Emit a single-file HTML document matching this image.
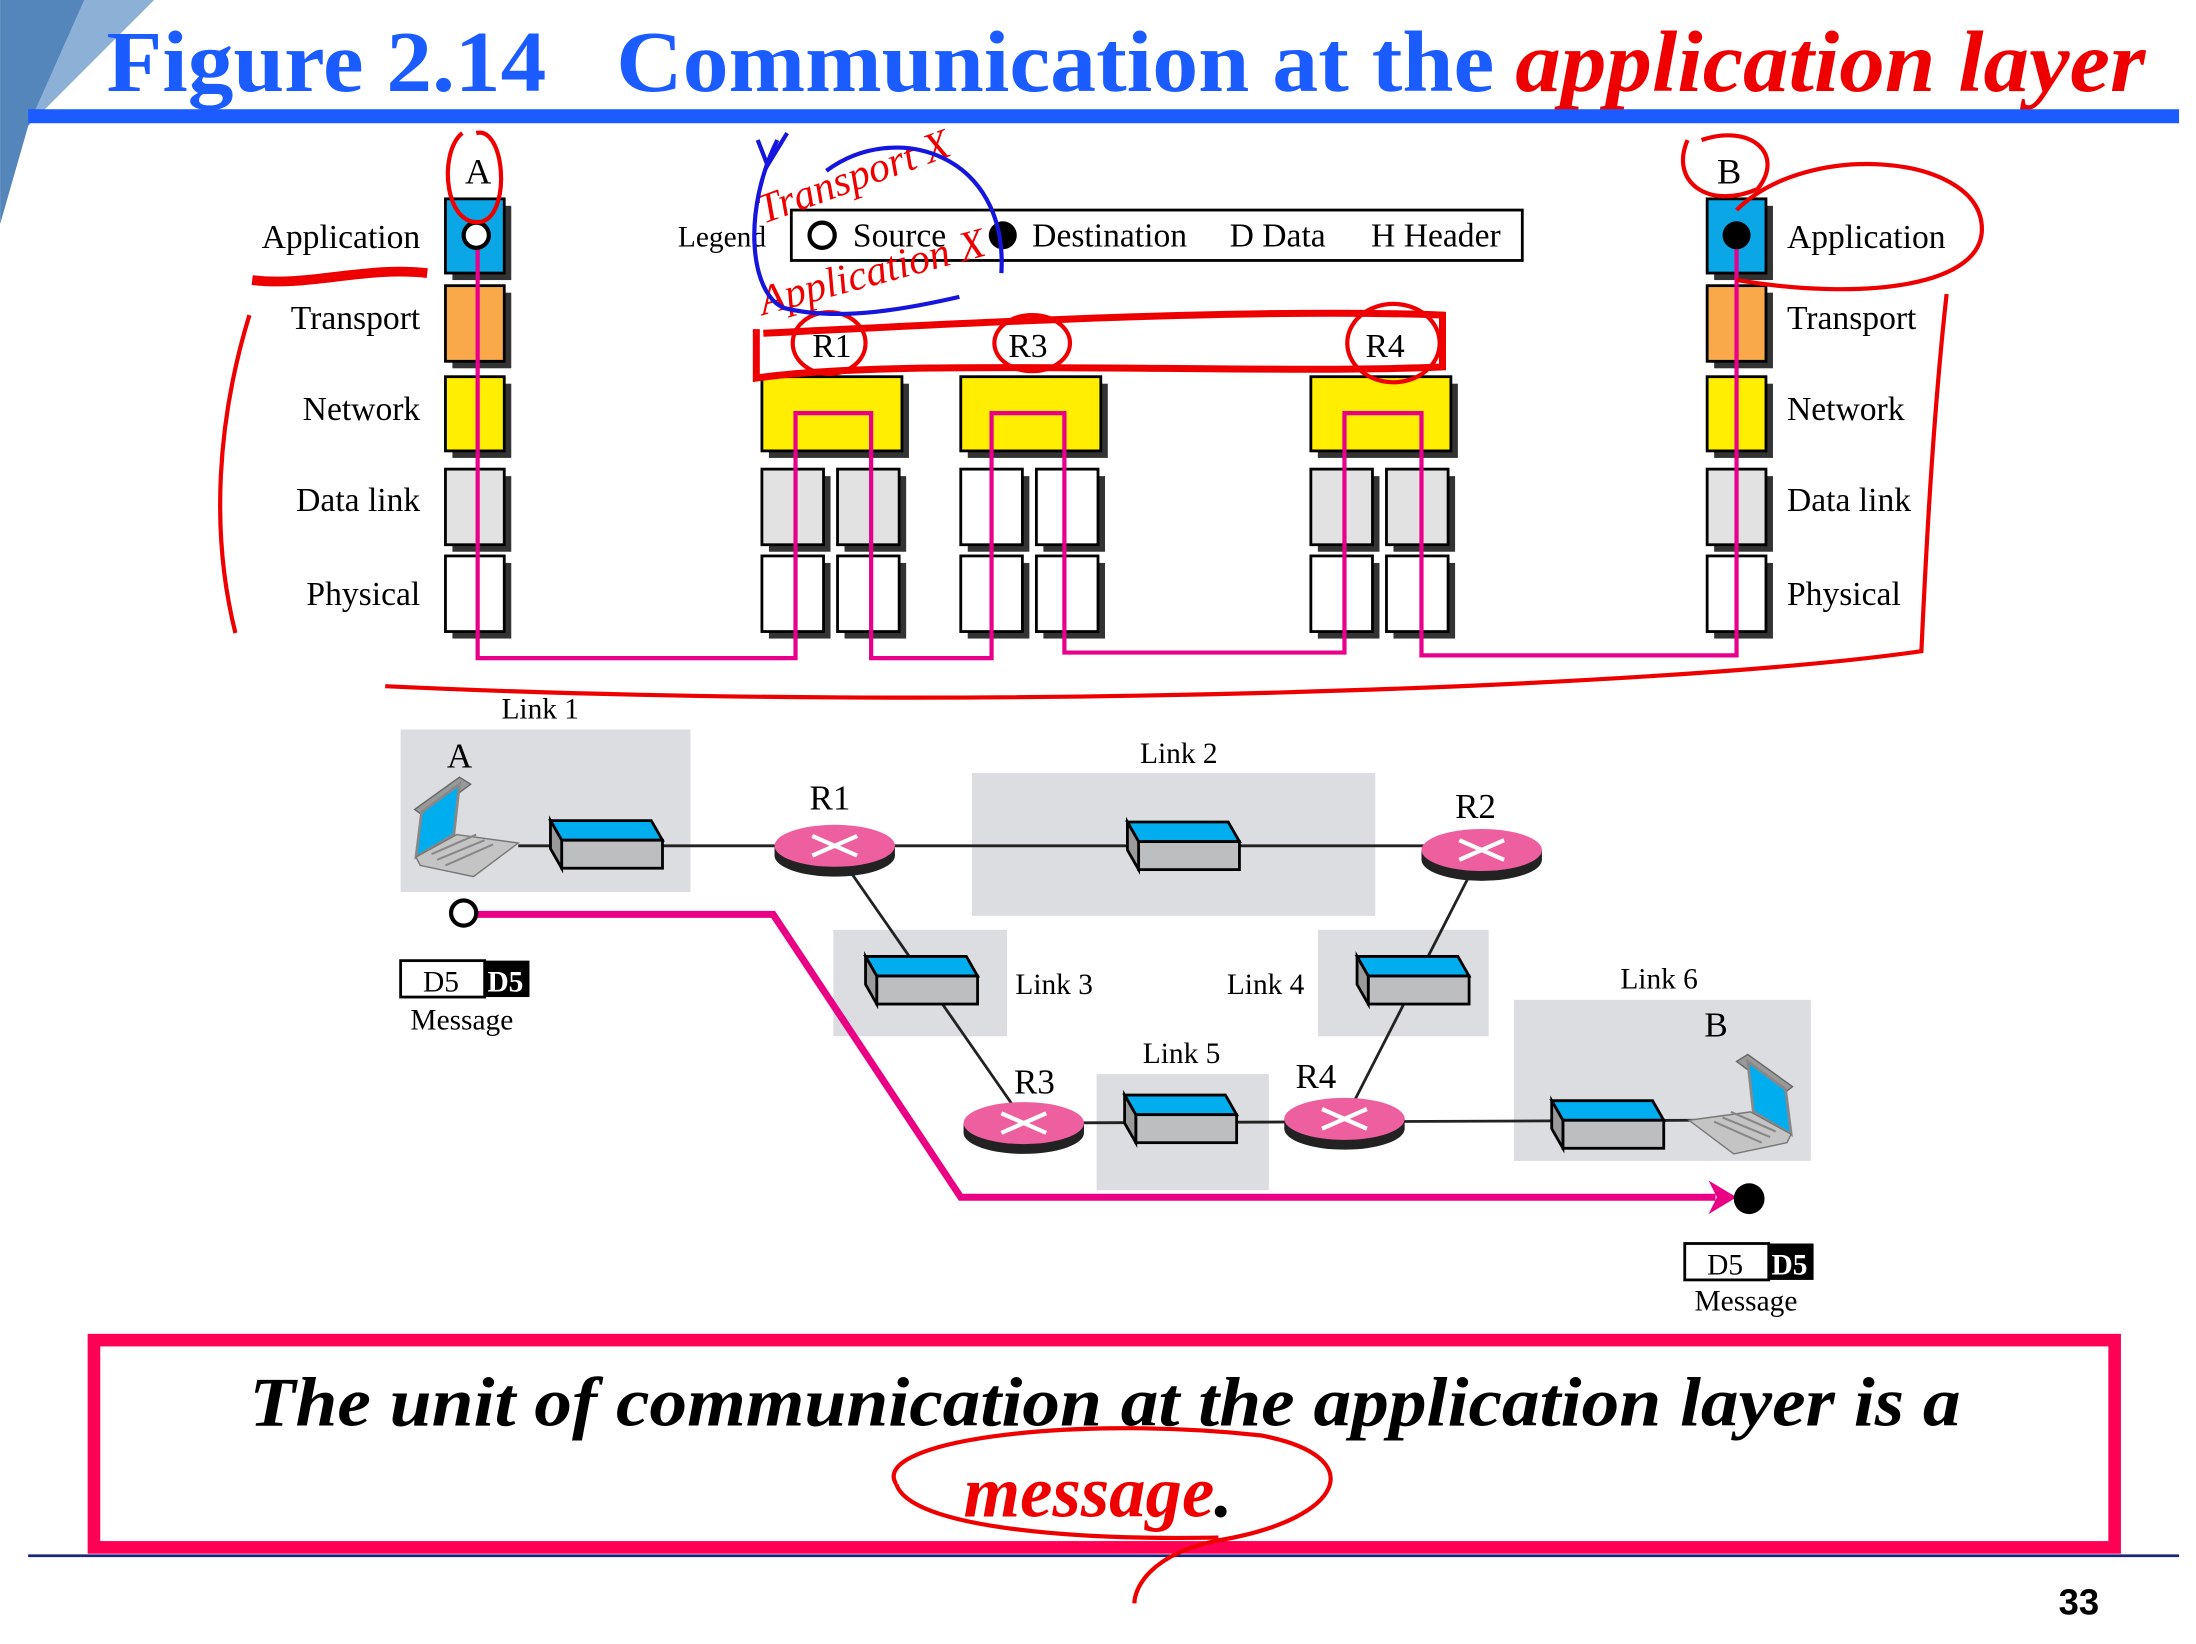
<!DOCTYPE html>
<html><head><meta charset="utf-8"><style>
html,body{margin:0;padding:0;background:#fff;}
svg{display:block}
text{font-family:"Liberation Serif",serif;}
</style></head><body>
<svg width="2196" height="1644" viewBox="0 0 1568 1174" xmlns="http://www.w3.org/2000/svg">
<rect width="1568" height="1174" fill="#fff"/>
<polygon points="0,0 110,0 20,90 0,160" fill="#5b8fc4" opacity="0.7"/>
<polygon points="0,160 20,90 60,0 0,0" fill="#2f6aa8" opacity="0.6"/>
<text x="76" y="65" font-size="62" font-weight="bold" fill="#1a5cff" textLength="314" lengthAdjust="spacingAndGlyphs">Figure 2.14</text>
<text x="440" y="65" font-size="62" font-weight="bold" fill="#1a5cff" textLength="627" lengthAdjust="spacingAndGlyphs">Communication at the</text>
<text x="1082" y="65" font-size="62" font-weight="bold" font-style="italic" fill="#ee0000" textLength="450" lengthAdjust="spacingAndGlyphs">application layer</text>
<rect x="20" y="78" width="1536" height="10" fill="#1a5cff"/>

<g stroke="#000" stroke-width="2">
<g>
<rect x="323" y="147" width="42" height="53" fill="#333" stroke="none"/><rect x="318" y="142" width="42" height="53" fill="#0aa6e6"/>
<rect x="323" y="209" width="42" height="54" fill="#333" stroke="none"/><rect x="318" y="204" width="42" height="54" fill="#f9a94a"/>
<rect x="323" y="274" width="42" height="53" fill="#333" stroke="none"/><rect x="318" y="269" width="42" height="53" fill="#ffee00"/>
<rect x="323" y="340" width="42" height="54" fill="#333" stroke="none"/><rect x="318" y="335" width="42" height="54" fill="#e2e2e2"/>
<rect x="323" y="402" width="42" height="54" fill="#333" stroke="none"/><rect x="318" y="397" width="42" height="54" fill="#fff"/>
</g>
<g>
<rect x="1224" y="147" width="42" height="53" fill="#333" stroke="none"/><rect x="1219" y="142" width="42" height="53" fill="#0aa6e6"/>
<rect x="1224" y="209" width="42" height="54" fill="#333" stroke="none"/><rect x="1219" y="204" width="42" height="54" fill="#f9a94a"/>
<rect x="1224" y="274" width="42" height="53" fill="#333" stroke="none"/><rect x="1219" y="269" width="42" height="53" fill="#ffee00"/>
<rect x="1224" y="340" width="42" height="54" fill="#333" stroke="none"/><rect x="1219" y="335" width="42" height="54" fill="#e2e2e2"/>
<rect x="1224" y="402" width="42" height="54" fill="#333" stroke="none"/><rect x="1219" y="397" width="42" height="54" fill="#fff"/>
</g>
<g id="rt">
<rect x="549" y="274" width="100" height="53" fill="#333" stroke="none"/><rect x="544" y="269" width="100" height="53" fill="#ffee00"/>
<rect x="549" y="340" width="44" height="54" fill="#333" stroke="none"/><rect x="544" y="335" width="44" height="54" fill="#e2e2e2"/>
<rect x="603" y="340" width="44" height="54" fill="#333" stroke="none"/><rect x="598" y="335" width="44" height="54" fill="#e2e2e2"/>
<rect x="549" y="402" width="44" height="54" fill="#333" stroke="none"/><rect x="544" y="397" width="44" height="54" fill="#fff"/>
<rect x="603" y="402" width="44" height="54" fill="#333" stroke="none"/><rect x="598" y="397" width="44" height="54" fill="#fff"/>
</g>
<g transform="translate(142,0)">
<rect x="549" y="274" width="100" height="53" fill="#333" stroke="none"/><rect x="544" y="269" width="100" height="53" fill="#ffee00"/>
<rect x="549" y="340" width="44" height="54" fill="#333" stroke="none"/><rect x="544" y="335" width="44" height="54" fill="#fff"/>
<rect x="603" y="340" width="44" height="54" fill="#333" stroke="none"/><rect x="598" y="335" width="44" height="54" fill="#fff"/>
<rect x="549" y="402" width="44" height="54" fill="#333" stroke="none"/><rect x="544" y="397" width="44" height="54" fill="#fff"/>
<rect x="603" y="402" width="44" height="54" fill="#333" stroke="none"/><rect x="598" y="397" width="44" height="54" fill="#fff"/>
</g>
<g transform="translate(392,0)"><use href="#rt"/></g>
</g>
<polyline points="341,168 341,470 568,470 568,295 622,295 622,470 708,470 708,295 760,295 760,466 960,466 960,295 1015,295 1015,468 1240,468 1240,168" fill="none" stroke="#e8008a" stroke-width="3"/>
<circle cx="340" cy="168" r="9" fill="#fff" stroke="#000" stroke-width="3"/>
<circle cx="1240" cy="168" r="10" fill="#000"/>

<g font-size="24" fill="#000">
<text x="300" y="177" text-anchor="end">Application</text>
<text x="300" y="235" text-anchor="end">Transport</text>
<text x="300" y="300" text-anchor="end">Network</text>
<text x="300" y="365" text-anchor="end">Data link</text>
<text x="300" y="432" text-anchor="end">Physical</text>
<text x="1276" y="177">Application</text>
<text x="1276" y="235">Transport</text>
<text x="1276" y="300">Network</text>
<text x="1276" y="365">Data link</text>
<text x="1276" y="432">Physical</text>
<text x="332" y="131" font-size="26">A</text>
<text x="1226" y="131" font-size="26">B</text>
<text x="580" y="255">R1</text>
<text x="720" y="255">R3</text>
<text x="975" y="255">R4</text>
<text x="484" y="176" font-size="21">Legend</text>
</g>
<rect x="565" y="150" width="522" height="36" fill="none" stroke="#000" stroke-width="2"/>
<circle cx="587" cy="168" r="9" fill="#fff" stroke="#000" stroke-width="3"/>
<circle cx="716" cy="168" r="10" fill="#000"/>
<g font-size="24"><text x="609" y="176">Source</text><text x="737" y="176">Destination</text><text x="878" y="176">D Data</text><text x="979" y="176">H Header</text></g>

<g fill="#dcdde0">
<rect x="286" y="521" width="207" height="116"/>
<rect x="694" y="552" width="288" height="102"/>
<rect x="595" y="664" width="124" height="76"/>
<rect x="941" y="664" width="122" height="76"/>
<rect x="783" y="767" width="123" height="83"/>
<rect x="1081" y="714" width="212" height="115"/>
</g>
<g stroke="#222" stroke-width="2" fill="none">
<line x1="370" y1="604" x2="1060" y2="604"/>
<line x1="595" y1="605" x2="732" y2="802"/>
<line x1="1058" y1="608" x2="960" y2="800"/>
<line x1="732" y1="802" x2="1210" y2="800"/>
</g>
<g font-size="21">
<text x="358" y="513">Link 1</text><text x="814" y="545">Link 2</text><text x="725" y="710">Link 3</text><text x="876" y="710">Link 4</text><text x="816" y="759">Link 5</text><text x="1157" y="706">Link 6</text>
</g>
<g font-size="25"><text x="319" y="548">A</text><text x="578" y="578">R1</text><text x="1039" y="584">R2</text><text x="724" y="781">R3</text><text x="925" y="777">R4</text></g>
<g id="swc" stroke="#000" stroke-width="2">
<polygon points="393,586 465,586 473,600 401,600" fill="#00aeef"/>
<rect x="401" y="600" width="72" height="20" fill="#bdbec0"/>
<polygon points="393,586 401,600 401,620 393,606" fill="#9a9a9a"/>
</g>
<use href="#swc" transform="translate(412,1)"/>
<use href="#swc" transform="translate(225,97)"/>
<use href="#swc" transform="translate(576,97)"/>
<use href="#swc" transform="translate(410,196)"/>
<use href="#swc" transform="translate(715,200)"/>
<g id="rtr">
<ellipse cx="596" cy="611" rx="43" ry="15" fill="#222"/>
<rect x="553" y="604" width="86" height="7" fill="#222"/>
<ellipse cx="596" cy="604" rx="43" ry="15" fill="#ee5fa0"/>
<path d="M580,597 L612,611 M580,611 L612,597" stroke="#fff" stroke-width="3"/>
</g>
<use href="#rtr" transform="translate(462,3)"/>
<use href="#rtr" transform="translate(135,198)"/>
<use href="#rtr" transform="translate(364,195)"/>
<g id="lap">
<polygon points="296,578 328,555 336,560 304,584" fill="#999" stroke="#666"/>
<polygon points="301,580 328,560 324,596 297,612" fill="#00aeef" stroke="#888" stroke-width="2"/>
<polygon points="297,612 326,596 370,602 338,626 300,618" fill="#c4c4c4" stroke="#777"/>
<path d="M308,610 L340,596 M312,614 L346,600 M318,618 L352,603" stroke="#888" stroke-width="1.5"/>
</g>
<g transform="translate(1576,198) scale(-1,1)"><use href="#lap"/></g>
<text x="1217" y="740" font-size="25">B</text>

<polyline points="340,653 552,653 686,855 1225,855" fill="none" stroke="#ea0085" stroke-width="5"/>
<polygon points="1220,843 1240,855 1220,867 1226,855" fill="#ea0085"/>
<circle cx="331" cy="652" r="9" fill="#fff" stroke="#000" stroke-width="3"/>
<circle cx="1249" cy="856" r="11" fill="#000"/>
<rect x="286" y="686" width="60" height="26" fill="#fff" stroke="#000" stroke-width="2"/>
<rect x="346" y="686" width="32" height="26" fill="#000"/>
<text x="302" y="708" font-size="21">D5</text><text x="348" y="708" font-size="21" fill="#fff" font-weight="bold">D5</text>
<text x="293" y="735" font-size="21">Message</text>
<rect x="1203" y="888" width="60" height="26" fill="#fff" stroke="#000" stroke-width="2"/>
<rect x="1263" y="888" width="32" height="26" fill="#000"/>
<text x="1219" y="910" font-size="21">D5</text><text x="1265" y="910" font-size="21" fill="#fff" font-weight="bold">D5</text>
<text x="1210" y="936" font-size="21">Message</text>

<rect x="67" y="957" width="1443" height="148" fill="none" stroke="#ff0055" stroke-width="9"/>
<text x="178" y="1018" font-size="50" font-style="italic" font-weight="bold" textLength="1222" lengthAdjust="spacingAndGlyphs">The unit of communication at the application layer is a</text>
<text x="688" y="1083" font-size="52" font-style="italic" font-weight="bold"><tspan fill="#ee0000">message</tspan>.</text>
<line x1="20" y1="1111" x2="1556" y2="1111" stroke="#1a237e" stroke-width="2"/>
<text x="1470" y="1153" font-size="26" font-weight="bold" style="font-family:'Liberation Sans',sans-serif">33</text>

<g fill="none" stroke="#ee0000" stroke-width="3">
<path d="M330,95 C312,110 318,165 345,158 C365,150 360,90 340,95"/>
<path d="M180,200 C220,205 260,190 305,195" stroke-width="7"/>
<path d="M178,225 C155,300 150,380 168,452"/>
<path d="M1205,100 C1192,130 1220,150 1255,135 C1275,110 1250,88 1215,100"/>
<path d="M1240,150 C1290,100 1410,110 1415,160 C1420,205 1330,215 1240,200"/>
<path d="M1390,210 C1380,300 1375,400 1372,465 C1200,490 700,510 275,490"/>
<path d="M540,235 L540,270 C640,255 900,268 1030,262 L1030,225 C900,220 700,230 545,238" stroke-width="5"/>
<ellipse cx="592" cy="245" rx="26" ry="22"/>
<ellipse cx="737" cy="245" rx="27" ry="20"/>
<ellipse cx="995" cy="245" rx="33" ry="28"/>
<path d="M640,1060 C620,1030 760,1010 900,1025 C980,1040 960,1085 870,1100 C820,1110 810,1135 810,1145"/>
<path d="M640,1060 C650,1090 760,1100 870,1098"/>
</g>
<g fill="#ee0000" font-size="30" font-style="italic">
<text x="545" y="160" transform="rotate(-20 545 160)">Transport X</text>
<text x="545" y="225" transform="rotate(-15 545 225)">Application X</text>
</g>
<path d="M555,100 C530,150 535,210 560,220 C600,230 650,220 685,212 M590,122 C640,85 720,110 715,195" fill="none" stroke="#1515dd" stroke-width="3"/>
<path d="M541,100 L548,118 L562,95" fill="none" stroke="#1515dd" stroke-width="3"/>
</svg>
</body></html>
